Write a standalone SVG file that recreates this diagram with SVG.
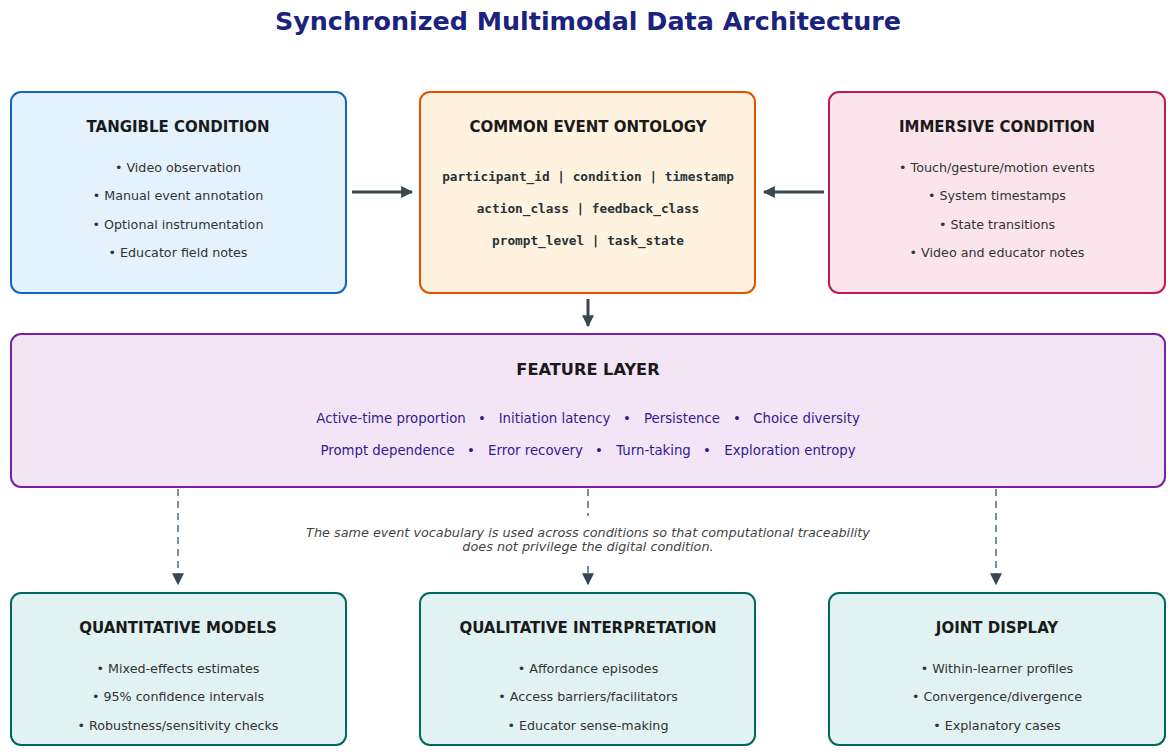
<svg xmlns="http://www.w3.org/2000/svg" width="1175" height="756" viewBox="0 0 1175 756">
<defs>
<style>
text{font-family:"DejaVu Sans","Liberation Sans",sans-serif;text-anchor:middle;dominant-baseline:central}
.ttl{font-size:25.4px;font-weight:bold;fill:#1A237E}
.h{font-size:15px;font-weight:bold;fill:#1a1a1a}
.b{font-size:12.7px;fill:#333}
.m{font-family:"DejaVu Sans Mono","Liberation Mono",monospace;font-size:12.75px;font-weight:bold;fill:#263238}
.f{font-size:13.3px;fill:#311B92}
.c{font-size:12.8px;font-style:italic;fill:#444}
.box{stroke-width:2}
.solid{stroke:#37474F;stroke-width:3;fill:none}
.dash{stroke:#78909C;stroke-width:2;stroke-dasharray:7 5;fill:none}
</style>
<marker id="ah" viewBox="0 0 10 10" refX="9" refY="5" markerWidth="4" markerHeight="4" markerUnits="strokeWidth" orient="auto">
<path d="M0,0 L10,5 L0,10 z" fill="#37474F"/>
</marker>
<marker id="ahd" viewBox="0 0 10 10" refX="9" refY="5" markerWidth="6" markerHeight="6" markerUnits="strokeWidth" orient="auto">
<path d="M0,0 L10,5 L0,10 z" fill="#37474F"/>
</marker>
</defs>
<rect width="1175" height="756" fill="#fff"/>
<text class="ttl" x="588" y="21">Synchronized Multimodal Data Architecture</text>

<g id="tangible">
<rect class="box" x="11" y="92" width="335" height="201" rx="10" fill="#E3F2FD" stroke="#1565C0"/>
<text class="h" x="178" y="127">TANGIBLE CONDITION</text>
<text class="b" x="178" y="167">• Video observation</text>
<text class="b" x="178" y="195">• Manual event annotation</text>
<text class="b" x="178" y="224">• Optional instrumentation</text>
<text class="b" x="178" y="252">• Educator field notes</text>
</g>

<g id="ontology">
<rect class="box" x="420" y="92" width="335" height="201" rx="10" fill="#FFF3E0" stroke="#E65100"/>
<text class="h" x="588" y="127">COMMON EVENT ONTOLOGY</text>
<text class="m" x="588" y="176">participant_id | condition | timestamp</text>
<text class="m" x="588" y="208">action_class | feedback_class</text>
<text class="m" x="588" y="240">prompt_level | task_state</text>
</g>

<g id="immersive">
<rect class="box" x="829" y="92" width="336" height="201" rx="10" fill="#FCE4EC" stroke="#C2185B"/>
<text class="h" x="997" y="127">IMMERSIVE CONDITION</text>
<text class="b" x="997" y="167">• Touch/gesture/motion events</text>
<text class="b" x="997" y="195">• System timestamps</text>
<text class="b" x="997" y="224">• State transitions</text>
<text class="b" x="997" y="252">• Video and educator notes</text>
</g>

<g id="feature">
<rect class="box" x="11" y="334" width="1154" height="153" rx="10" fill="#F3E5F5" stroke="#7B1FA2"/>
<text class="h" x="588" y="369" style="font-size:16.2px">FEATURE LAYER</text>
<text class="f" y="418"><tspan x="391">Active-time proportion</tspan><tspan x="482">•</tspan><tspan x="554.5">Initiation latency</tspan><tspan x="627">•</tspan><tspan x="682">Persistence</tspan><tspan x="737">•</tspan><tspan x="806.5">Choice diversity</tspan></text>
<text class="f" y="450"><tspan x="387.5">Prompt dependence</tspan><tspan x="471">•</tspan><tspan x="535.5">Error recovery</tspan><tspan x="599">•</tspan><tspan x="653.5">Turn-taking</tspan><tspan x="707">•</tspan><tspan x="790">Exploration entropy</tspan></text>
</g>

<g id="quant">
<rect class="box" x="11" y="593" width="335" height="152" rx="10" fill="#E0F2F1" stroke="#00695C"/>
<text class="h" x="178" y="628">QUANTITATIVE MODELS</text>
<text class="b" x="178" y="668">• Mixed-effects estimates</text>
<text class="b" x="178" y="696">• 95% confidence intervals</text>
<text class="b" x="178" y="725">• Robustness/sensitivity checks</text>
</g>

<g id="qual">
<rect class="box" x="420" y="593" width="335" height="152" rx="10" fill="#E0F2F1" stroke="#00695C"/>
<text class="h" x="588" y="628">QUALITATIVE INTERPRETATION</text>
<text class="b" x="588" y="668">• Affordance episodes</text>
<text class="b" x="588" y="696">• Access barriers/facilitators</text>
<text class="b" x="588" y="725">• Educator sense-making</text>
</g>

<g id="joint">
<rect class="box" x="829" y="593" width="336" height="152" rx="10" fill="#E0F2F1" stroke="#00695C"/>
<text class="h" x="997" y="628">JOINT DISPLAY</text>
<text class="b" x="997" y="668">• Within-learner profiles</text>
<text class="b" x="997" y="696">• Convergence/divergence</text>
<text class="b" x="997" y="725">• Explanatory cases</text>
</g>

<g id="connectors">
<line class="solid" x1="352" y1="192" x2="412" y2="192" marker-end="url(#ah)"/>
<line class="solid" x1="824" y1="192" x2="764" y2="192" marker-end="url(#ah)"/>
<line class="solid" x1="588" y1="299" x2="588" y2="326" marker-end="url(#ah)"/>
<line class="dash" x1="178" y1="489" x2="178" y2="584" marker-end="url(#ahd)"/>
<line class="dash" x1="588" y1="489" x2="588" y2="516"/>
<line class="dash" x1="588" y1="566" x2="588" y2="584" marker-end="url(#ahd)"/>
<line class="dash" x1="996" y1="489" x2="996" y2="584" marker-end="url(#ahd)"/>
<text class="c" x="588" y="532">The same event vocabulary is used across conditions so that computational traceability</text>
<text class="c" x="588" y="546">does not privilege the digital condition.</text>
</g>
</svg>
